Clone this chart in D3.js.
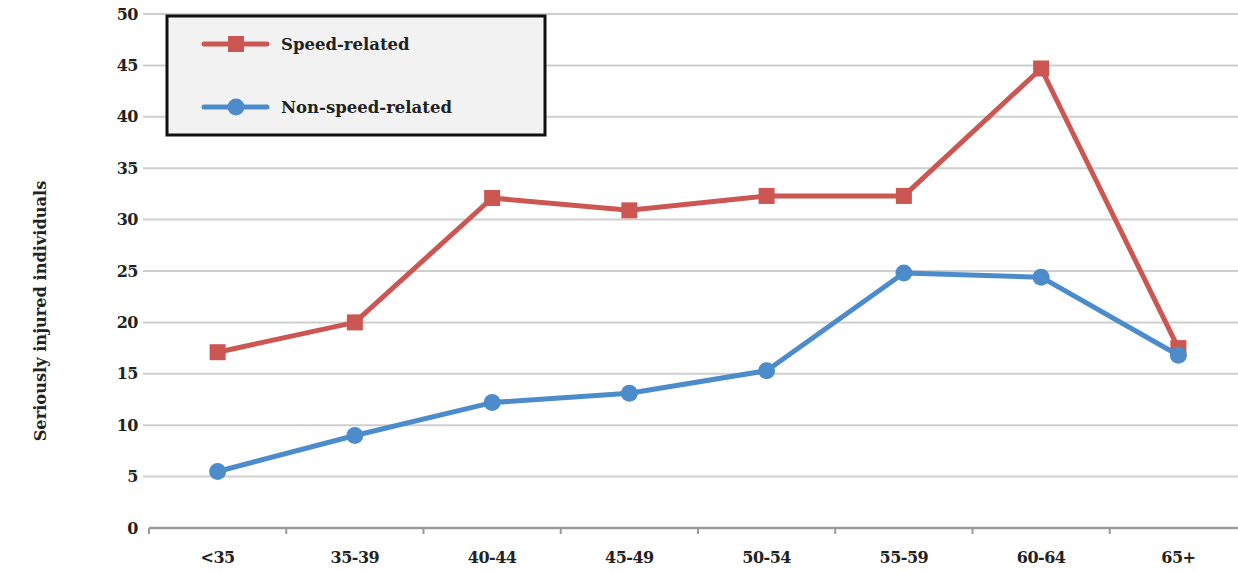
<!DOCTYPE html>
<html><head><meta charset="utf-8">
<script src="https://cdn.jsdelivr.net/npm/d3@7"></script>
<style>body{margin:0;background:#fff}svg{display:block}</style>
</head><body>
<svg id="c" width="1238" height="571"></svg>
<script>
const categories = ["<35","35-39","40-44","45-49","50-54","55-59","60-64","65+"];
const speedRelated = [17.1, 20.0, 32.1, 30.9, 32.3, 32.3, 44.7, 17.5];
const nonSpeedRelated = [5.5, 9.0, 12.2, 13.1, 15.3, 24.8, 24.4, 16.8];
const yTicks = [0,5,10,15,20,25,30,35,40,45,50];
const seriesNames = ["Speed-related","Non-speed-related"];
const yTitle = "Seriously injured individuals";

(function () {
const svg = d3.select("#c");
const font = "'DejaVu Serif', 'Liberation Serif', serif";
const pLeft = 149, pRight = 1247, pTop = 14, pBottom = 528;
const x = d3.scaleBand().domain(categories).range([pLeft, pRight]);
const y = d3.scaleLinear().domain([0, 50]).range([pBottom, pTop]);

// gridlines
svg.append("g").selectAll("line").data(yTicks.filter(d => d > 0)).join("line")
  .attr("x1", pLeft - 6).attr("x2", 1238)
  .attr("y1", d => y(d)).attr("y2", d => y(d))
  .attr("stroke", "#cfcfcf").attr("stroke-width", 2);

// x axis
const xAxis = d3.axisBottom(x).tickSize(0).tickFormat(d => d);
const gx = svg.append("g").attr("transform", `translate(0,${pBottom})`).call(xAxis);
gx.select(".domain").remove();
gx.selectAll("text").attr("dy", null).attr("y", 35)
  .style("font-family", font).style("font-weight", "bold").style("font-size", "16px")
  .style("letter-spacing", "-0.5px").attr("fill", "#222");
svg.append("line").attr("x1", pLeft).attr("x2", 1238).attr("y1", pBottom).attr("y2", pBottom)
  .attr("stroke", "#9a9a9a").attr("stroke-width", 2.5);
const bandEdges = categories.map(c => x(c));
svg.append("g").selectAll("line").data(bandEdges).join("line")
  .attr("x1", d => d).attr("x2", d => d).attr("y1", pBottom).attr("y2", pBottom + 6)
  .attr("stroke", "#9a9a9a").attr("stroke-width", 2);

// y axis labels
const yAxis = d3.axisLeft(y).tickValues(yTicks).tickSize(0).tickPadding(11);
const gy = svg.append("g").attr("transform", `translate(${pLeft},0)`).call(yAxis);
gy.select(".domain").remove();
gy.selectAll("text").style("font-family", font).style("font-weight", "bold")
  .style("font-size", "16px").style("letter-spacing", "-0.5px").attr("fill", "#222");

// y title
svg.append("text").attr("transform", "translate(46,311) rotate(-90)")
  .attr("text-anchor", "middle").style("font-family", font).style("font-weight", "bold")
  .style("font-size", "16.2px").attr("fill", "#222").text(yTitle);

const colors = ["#cc5752", "#4d8ccb"];
const cx = d => x(d) + x.bandwidth() / 2;
const line = d3.line().x((d, i) => cx(categories[i])).y(d => y(d));

function drawSeries(vals, color, kind) {
  svg.append("path").datum(vals).attr("d", line).attr("fill", "none")
    .attr("stroke", color).attr("stroke-width", 5).attr("stroke-linejoin", "round");
  const g = svg.append("g");
  if (kind === "square") {
    g.selectAll("rect").data(vals).join("rect")
      .attr("x", (d, i) => cx(categories[i]) - 8).attr("y", d => y(d) - 8)
      .attr("width", 16).attr("height", 16).attr("fill", color);
  } else {
    g.selectAll("circle").data(vals).join("circle")
      .attr("cx", (d, i) => cx(categories[i])).attr("cy", d => y(d))
      .attr("r", 8.5).attr("fill", color);
  }
}
drawSeries(speedRelated, colors[0], "square");
drawSeries(nonSpeedRelated, colors[1], "circle");

// legend
const lg = svg.append("g");
lg.append("rect").attr("x", 167).attr("y", 16).attr("width", 378).attr("height", 119)
  .attr("fill", "#f2f2f2").attr("stroke", "#111").attr("stroke-width", 3);
const ly = [44, 107];
seriesNames.forEach((n, i) => {
  lg.append("line").attr("x1", 204).attr("x2", 267).attr("y1", ly[i]).attr("y2", ly[i])
    .attr("stroke", colors[i]).attr("stroke-width", 5).attr("stroke-linecap", "round");
  if (i === 0) lg.append("rect").attr("x", 228).attr("y", ly[i] - 8).attr("width", 16).attr("height", 16).attr("fill", colors[i]);
  else lg.append("circle").attr("cx", 236).attr("cy", ly[i]).attr("r", 8.5).attr("fill", colors[i]);
  lg.append("text").attr("x", 281).attr("y", ly[i] + 6).style("font-family", font)
    .style("font-weight", "bold").style("font-size", "16.5px").attr("fill", "#222").text(n);
});
})();
</script>
</body></html>
